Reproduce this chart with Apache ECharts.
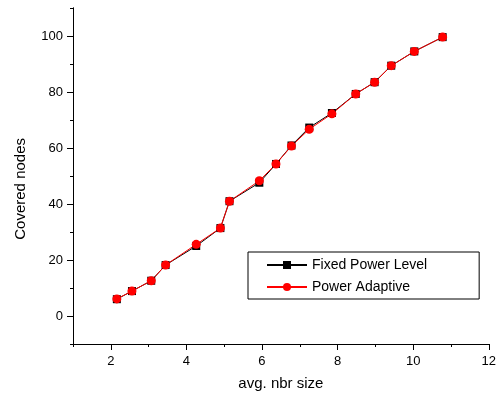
<!DOCTYPE html>
<html>
<head>
<meta charset="utf-8">
<script src="https://cdn.jsdelivr.net/npm/echarts@6/dist/echarts.min.js"></script>
<style>html,body{margin:0;padding:0;background:#fff}#c{width:499px;height:399px}</style>
</head>
<body>
<div id="c"></div>
<script>
var xValues = [2.16, 2.56, 3.07, 3.45, 4.26, 4.90, 5.14, 5.93, 6.37, 6.78, 7.25, 7.85, 8.48, 8.98, 9.42, 10.03, 10.78];
var yFixed = [6.0, 8.9, 12.6, 18.2, 25.0, 31.4, 41.0, 47.6, 54.3, 60.9, 67.3, 72.5, 79.3, 83.5, 89.4, 94.5, 99.6];
var yAdaptive = [6.1, 8.9, 12.6, 18.2, 25.6, 31.4, 41.0, 48.3, 54.3, 60.7, 66.7, 72.2, 79.3, 83.5, 89.4, 94.5, 99.6];
var seriesNames = ['Fixed Power Level', 'Power Adaptive'];
var xMajorTicks = [2, 4, 6, 8, 10, 12];
var xMinorTicks = [1, 3, 5, 7, 9, 11];
var yMajorTicks = [0, 20, 40, 60, 80, 100];
var yMinorTicks = [-10, 10, 30, 50, 70, 90, 110];
var xAxisTitle = 'avg. nbr size';
var yAxisTitle = 'Covered nodes';

function pairs(xs, ys) { return xs.map(function (x, i) { return [x, ys[i]]; }); }

var font = 'Liberation Sans, Arial, sans-serif';
var chart = echarts.init(document.getElementById('c'), null, { renderer: 'canvas' });
var axisLine = { show: true, onZero: false, lineStyle: { color: '#000', width: 1 } };
chart.setOption({
  animation: false,
  backgroundColor: '#fff',
  grid: { left: 73, right: 9, top: 8, bottom: 55, containLabel: false },
  xAxis: [
    {
      type: 'value', min: 1, max: 12, position: 'bottom',
      name: xAxisTitle, nameLocation: 'middle', nameGap: 32,
      nameTextStyle: { fontFamily: font, fontSize: 15, color: '#000' },
      axisLine: axisLine,
      axisTick: { show: true, inside: false, length: 6, customValues: xMajorTicks, lineStyle: { color: '#000' } },
      axisLabel: { customValues: xMajorTicks, margin: 11, fontFamily: font, fontSize: 13, color: '#000' },
      splitLine: { show: false }
    },
    {
      type: 'value', min: 1, max: 12, position: 'bottom', gridIndex: 0,
      axisLine: axisLine,
      axisTick: { show: true, inside: false, length: 3, customValues: xMinorTicks, lineStyle: { color: '#000' } },
      axisLabel: { show: false },
      splitLine: { show: false }
    }
  ],
  yAxis: [
    {
      type: 'value', min: -10, max: 110, position: 'left',
      axisLine: axisLine,
      axisTick: { show: true, inside: false, length: 6, customValues: yMajorTicks, lineStyle: { color: '#000' } },
      axisLabel: { customValues: yMajorTicks, margin: 10, fontFamily: font, fontSize: 13, color: '#000' },
      splitLine: { show: false }
    },
    {
      type: 'value', min: -10, max: 110, position: 'left',
      axisLine: axisLine,
      axisTick: { show: true, inside: false, length: 3, customValues: yMinorTicks, lineStyle: { color: '#000' } },
      axisLabel: { show: false },
      splitLine: { show: false }
    }
  ],
  legend: {
    left: 248, top: 252,
    orient: 'vertical',
    data: seriesNames,
    itemWidth: 40, itemHeight: 10, itemGap: 8,
    padding: [6, 52, 5, 18],
    borderColor: '#000', borderWidth: 1,
    textStyle: { fontFamily: font, fontSize: 14, color: '#000' }
  },
  graphic: [{
    type: 'text', left: 13, top: 138, rotation: Math.PI / 2,
    style: { text: yAxisTitle, font: '15px ' + font, fill: '#000' }
  }],
  series: [
    {
      name: seriesNames[0], type: 'line', xAxisIndex: 0, yAxisIndex: 0,
      data: pairs(xValues, yFixed),
      symbol: 'rect', symbolSize: 8,
      lineStyle: { color: '#000', width: 1 },
      itemStyle: { color: '#000' }
    },
    {
      name: seriesNames[1], type: 'line', xAxisIndex: 0, yAxisIndex: 0,
      data: pairs(xValues, yAdaptive),
      symbol: 'circle', symbolSize: 9,
      lineStyle: { color: '#ff0000', width: 1 },
      itemStyle: { color: '#ff0000' }
    }
  ]
});
</script>
</body>
</html>
